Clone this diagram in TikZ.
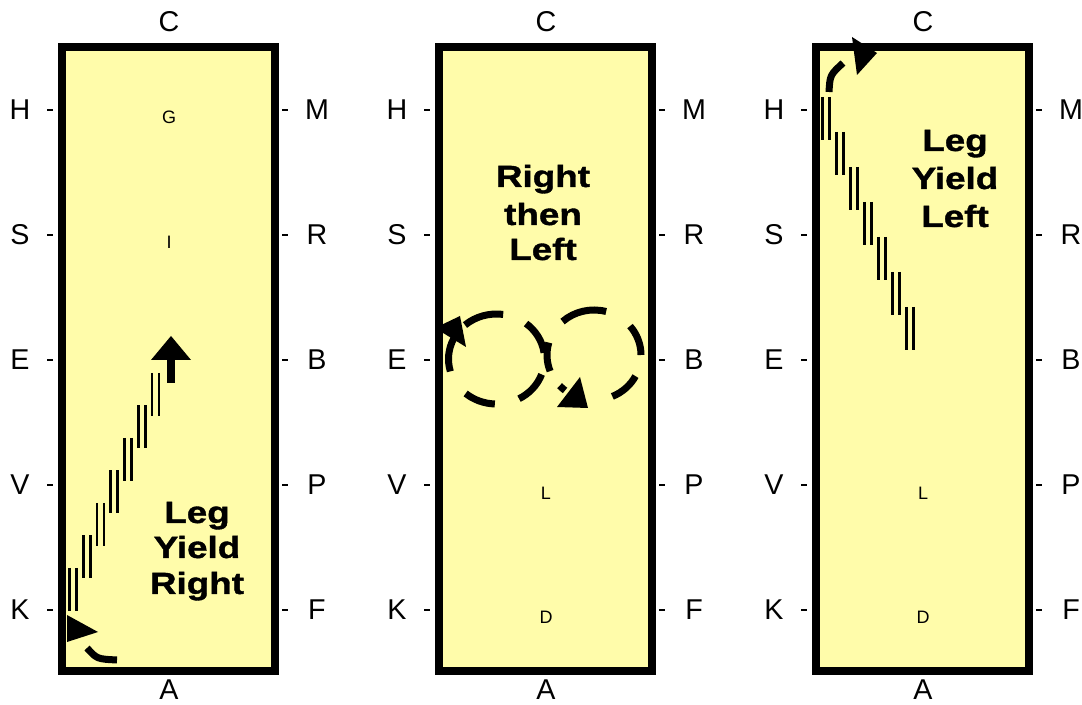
\documentclass[tikz,border=0pt]{standalone}
\usepackage{fontspec}
\setmainfont{Liberation Sans}
\newfontfamily\titlefont{Liberation Sans}[FakeStretch=1.2,BoldFeatures={FakeBold=1.2}]
\definecolor{arena}{RGB}{255,252,170}
\begin{document}
\begin{tikzpicture}[x=0.75pt,y=-0.75pt,
  arenabox/.style={draw=black, line width=6pt, fill=arena},
  lbl/.style={font=\fontsize{21.5}{24}\selectfont, inner sep=0pt},
  smallletter/.style={font=\fontsize{13.5}{15}\selectfont, inner sep=0pt},
  titleline/.style={font=\titlefont\fontsize{23}{27}\selectfont\bfseries, inner sep=0pt, anchor=base},
  tickmark/.style={line width=1.5pt},
  trackline/.style={line width=2.2pt},
  route/.style={line width=5.25pt},
]
\useasboundingbox (0,0) rectangle (1082,705);
\fill[white] (0,0) rectangle (1082,705);

% arenas and letters
\foreach \o/\n in {0/a,377/b,754/c}{
  \draw[arenabox] (62+\o,47) rectangle (275+\o,671);
  \node[lbl] (C\n) at (169+\o,22) {C};
  \node[lbl] (A\n) at (169+\o,690) {A};
  \foreach \y/\l/\r in {110/H/M,235/S/R,360/E/B,485/V/P,610/K/F}{
    \node[lbl] (\l\n) at (20+\o,\y) {\l};
    \draw[tickmark] (47+\o,\y) -- (53+\o,\y);
    \node[lbl] (\r\n) at (317+\o,\y) {\r};
    \draw[tickmark] (282+\o,\y) -- (288+\o,\y);
  }
}
\node[smallletter] (G) at (169,117) {G};
\node[smallletter] (I) at (169,242) {I};
\node[smallletter] (Lb) at (546,493) {L};
\node[smallletter] (Db) at (546,617) {D};
\node[smallletter] (Lc) at (923,493) {L};
\node[smallletter] (Dc) at (923,617) {D};

% titles
\node[titleline] (t1a) at (197,523) {Leg};
\node[titleline] (t1b) at (197,558) {Yield};
\node[titleline] (t1c) at (197,594) {Right};
\node[titleline] (t2a) at (543,187) {Right};
\node[titleline] (t2b) at (543,225) {then};
\node[titleline] (t2c) at (543,260) {Left};
\node[titleline] (t3a) at (955,151) {Leg};
\node[titleline] (t3b) at (955,189) {Yield};
\node[titleline] (t3c) at (955,227) {Left};

% left arena: leg yield right
\foreach \k in {0,...,6}{
  \pgfmathsetmacro{\xx}{69.5+13.75*\k}
  \pgfmathsetmacro{\yy}{568-32.5*\k}
  \draw[trackline] (\xx,\yy) -- ++(0,43) (\xx+7,\yy) -- ++(0,43);
}
\fill (167,383) rectangle (175,358);
\fill (151,360) -- (191,360) -- (171,336) -- cycle;
\draw[route] (117,660) .. controls (97,659) .. (87,648);
\fill (67,615) -- (98,632) -- (67,642) -- cycle;

% middle arena: circles
\foreach \a/\b in {-131/-82,-52/-8,20/62,92/130,164/207}
  \draw[route] (496.5,359) ++(\a:48 and 45) arc[start angle=\a, end angle=\b, x radius=48, y radius=45];
\fill (435,328) -- (460,316) -- (466,347) -- cycle;
\foreach \a/\b in {-132/-75,-40/0,28/67,159/196,128/137}
  \draw[route] (594,355) ++(\a:47 and 45) arc[start angle=\a, end angle=\b, x radius=47, y radius=45];
\fill (557,407) -- (580,377) -- (588,408) -- cycle;

% right arena: leg yield left
\foreach \k in {0,...,6}{
  \pgfmathsetmacro{\xx}{822.5+13.95*\k}
  \pgfmathsetmacro{\yy}{97+35*\k}
  \draw[trackline] (\xx,\yy) -- ++(0,43) (\xx+7,\yy) -- ++(0,43);
}
\draw[route] (829,92) .. controls (830,75) .. (843,63);
\fill (852,37) -- (877,53) -- (857,75) -- cycle;
\end{tikzpicture}
\end{document}
